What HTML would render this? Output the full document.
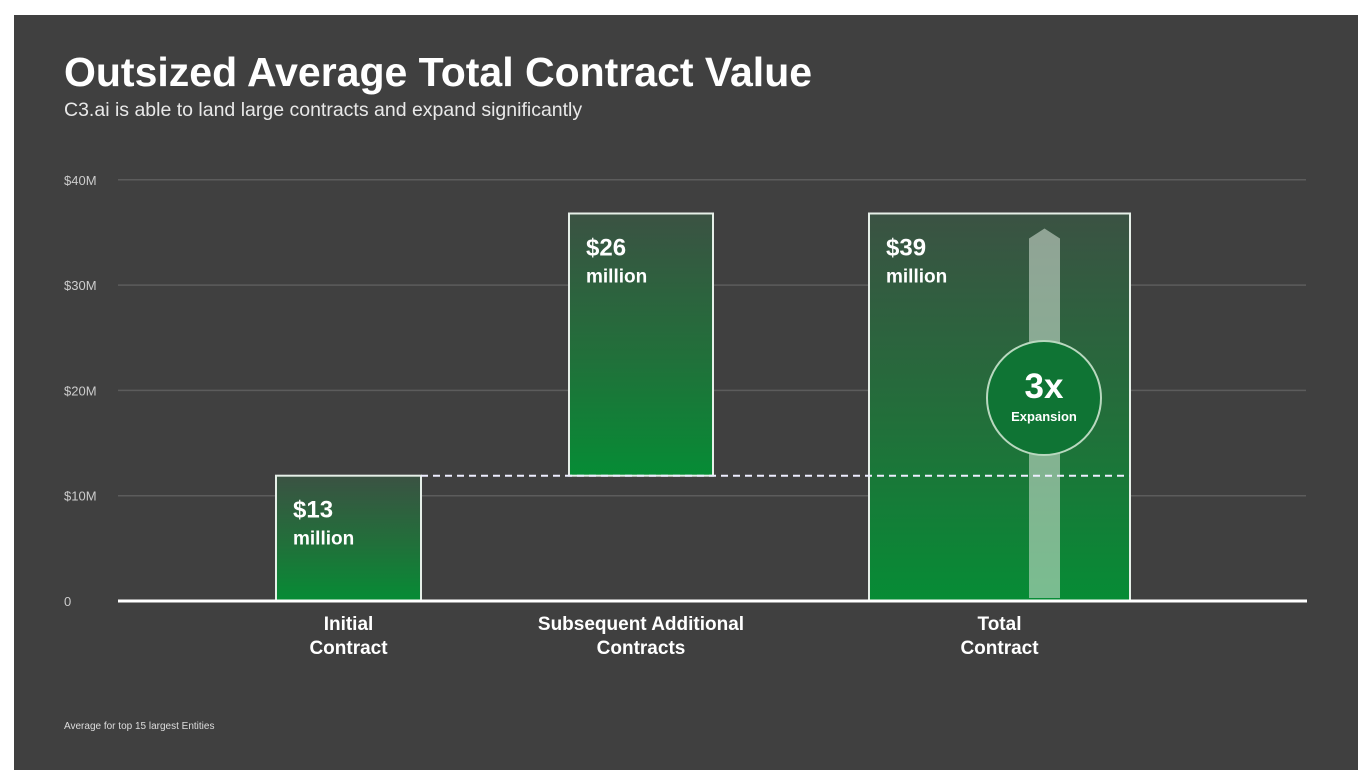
<!DOCTYPE html>
<html><head><meta charset="utf-8"><style>
body{margin:0;background:#fff;width:1372px;height:784px;overflow:hidden;font-family:"Liberation Sans",sans-serif}
#panel{position:absolute;left:14px;top:15px;width:1344px;height:755px;background:#404040}
</style></head><body>
<div id="panel"></div>
<svg id="chart" width="1372" height="784" style="position:absolute;left:0;top:0">
<defs>
<linearGradient id="g" x1="0" y1="0" x2="0" y2="1">
<stop offset="0" stop-color="#3b5243"/><stop offset="0.55" stop-color="#21703a"/><stop offset="1" stop-color="#068c35"/>
</linearGradient>
</defs>
<text x="64" y="86" font-size="41" font-weight="bold" fill="#fff">Outsized Average Total Contract Value</text>
<text x="64" y="116" font-size="19.5" fill="#e8e8e8">C3.ai is able to land large contracts and expand significantly</text>
<text x="64" y="729" font-size="10" fill="#ddd">Average for top 15 largest Entities</text>
<g id="grid"></g><g id="bars"></g><g id="over"></g>
</svg>
<script>
const categories=[["Initial","Contract"],["Subsequent Additional","Contracts"],["Total","Contract"]];
const bases=[0,11.9,0];
const values=[11.9,24.9,36.8];
const valueLabels=["$13","$26","$39"];
const ticks=[0,10,20,30,40];
const tickLabels=["0","$10M","$20M","$30M","$40M"];
const ns="http://www.w3.org/2000/svg";
const y=v=>601-v*10.53;
const barX=[[276,421],[569,713],[869,1130]];
function mk(t,a,p){const e=document.createElementNS(ns,t);for(const k in a)e.setAttribute(k,a[k]);p.appendChild(e);return e;}
const grid=document.getElementById('grid'),bars=document.getElementById('bars'),over=document.getElementById('over');
ticks.forEach((t,i)=>{
 if(t>0){const l=mk('line',{x1:118,x2:1306,y1:y(t),y2:y(t),stroke:'#5c5c5c','stroke-width':1.5},grid);
 
 }
 const tx=mk('text',{x:64,y:y(t)+5,'font-size':13,fill:'#ccc'},grid);tx.textContent=tickLabels[i];
 
 
});
values.forEach((v,i)=>{
 const [x0,x1]=barX[i];const top=y(bases[i]+v),bot=y(bases[i]);
 const r=mk('rect',{x:x0,y:top,width:x1-x0,height:bot-top,fill:'url(#g)',stroke:'#e6efe8','stroke-width':2},bars);
 
 
 const t1=mk('text',{x:x0+17,y:top+42,'font-size':24,'font-weight':'bold',fill:'#fff'},bars);t1.textContent=valueLabels[i];
 
 
 const t2=mk('text',{x:x0+17,y:top+69,'font-size':19,'font-weight':'bold',fill:'#fff'},bars);t2.textContent='million';
 
 
 categories[i].forEach((c,j)=>{const tc=mk('text',{x:(x0+x1)/2,y:630+j*24,'font-size':19,'font-weight':'bold',fill:'#fff','text-anchor':'middle'},bars);tc.textContent=c;
 
 });
});
const ay=y(values[2]);
const ar=mk('polygon',{points:`1029,${ay+25} 1029,598 1060,598 1060,${ay+25} 1044.5,${ay+15}`,fill:'#d8e6da','fill-opacity':0.55},over);


const dl=mk('line',{x1:421,x2:1130,y1:y(values[0]),y2:y(values[0]),stroke:'#eef','stroke-width':2,'stroke-dasharray':'7,5'},over);


const c=mk('circle',{cx:1044,cy:398,r:57,fill:'#0f7434',stroke:'#b9d8bf','stroke-width':2},over);


const c1=mk('text',{x:1044,y:398,'font-size':35,'font-weight':'bold',fill:'#fff','text-anchor':'middle'},over);c1.textContent='3x';


const c2=mk('text',{x:1044,y:421,'font-size':13,'font-weight':'bold',fill:'#fff','text-anchor':'middle'},over);c2.textContent='Expansion';


const ax=mk('line',{x1:118,x2:1307,y1:y(0),y2:y(0),stroke:'#fff','stroke-width':3},over);


</script>
</body></html>
